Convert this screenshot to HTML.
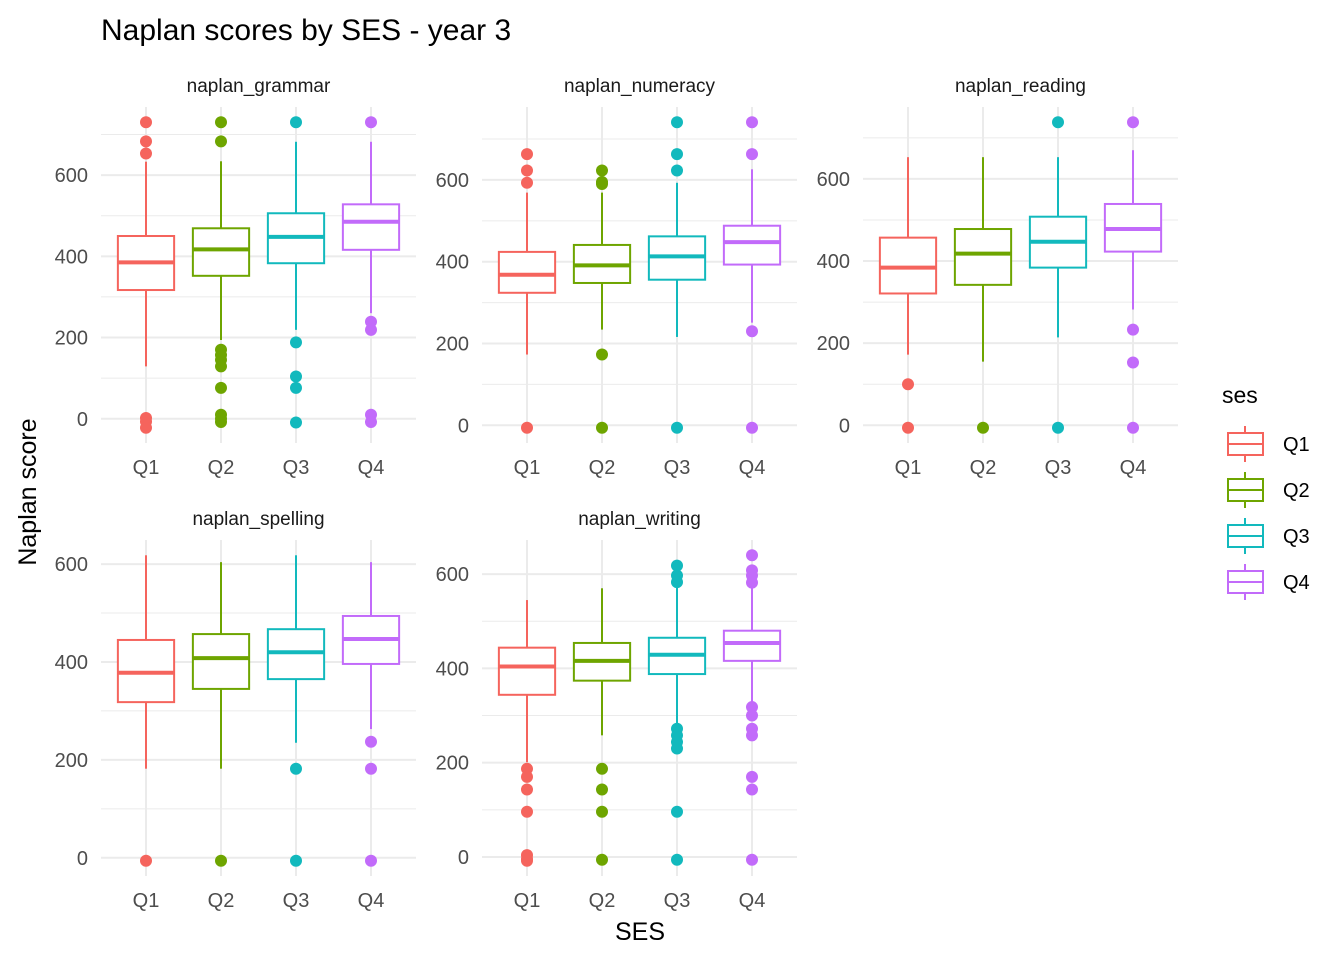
<!DOCTYPE html>
<html><head><meta charset="utf-8"><style>
body{margin:0;background:#fff;}
svg{display:block;font-family:"Liberation Sans",Arial,sans-serif;}
</style></head><body>
<svg id="chart" width="1344" height="960" viewBox="0 0 1344 960" xmlns="http://www.w3.org/2000/svg">
<text x="101" y="40" font-size="30" fill="#000">Naplan scores by SES - year 3</text>
<text x="640" y="940" font-size="25" text-anchor="middle" fill="#000">SES</text>
<text transform="translate(36,492) rotate(-90)" font-size="25" text-anchor="middle" fill="#000">Naplan score</text>
<g id="panels"></g>
<g id="legend"></g>
</svg>
<script>
const categories = ["Q1","Q2","Q3","Q4"];
const colors = ["#F5645D","#6EA500","#12B9BD","#C26BFA"];
const panelNames = ["naplan_grammar","naplan_numeracy","naplan_reading","naplan_spelling","naplan_writing"];
const yTicks = [0,200,400,600];
// each: [lowWhisker, q1, median, q3, highWhisker]
const grammarStats = [[129,317,385,450,633],[194,352,417,469,634],[219,383,448,506,682],[260,416,485,528,682]];
const grammarOutliers = [[730,683,653,2,-7,-22],[730,683,170,157,145,129,76,10,0,-8],[730,188,104,76,-9],[730,239,219,10,-8]];
const numeracyStats = [[173,324,368,424,569],[234,348,391,441,569],[216,356,413,462,593],[251,393,448,488,626]];
const numeracyOutliers = [[663,623,593,-6],[623,595,590,173,-6],[741,663,623,-6],[741,663,230,-6]];
const readingStats = [[172,321,384,457,653],[155,342,418,478,653],[214,384,447,508,653],[282,423,478,539,670]];
const readingOutliers = [[100,-6],[-6],[738,-6],[738,233,153,-6]];
const spellingStats = [[182,318,378,445,618],[182,345,408,457,604],[235,365,420,467,618],[263,396,447,494,604]];
const spellingOutliers = [[-6],[-6],[182,-6],[237,182,-6]];
const writingStats = [[201,344,404,444,545],[258,374,416,454,570],[275,388,429,465,571],[325,416,454,480,571]];
const writingOutliers = [[187,170,143,96,4,-4,-8],[187,143,96,-6],[618,597,583,272,258,244,230,96,-6],[640,608,597,582,318,300,272,258,170,143,-6]];

const panelStats=[grammarStats,numeracyStats,readingStats,spellingStats,writingStats];
const panelOut=[grammarOutliers,numeracyOutliers,readingOutliers,spellingOutliers,writingOutliers];
const NS="http://www.w3.org/2000/svg";
const colX=[101,482,863], rowY=[107,540], PW=315, PH=336;
function mk(tag,attrs,parent){const e=document.createElementNS(NS,tag);for(const k in attrs)e.setAttribute(k,attrs[k]);parent.appendChild(e);return e;}
const root=document.getElementById('panels');
panelNames.forEach((name,p)=>{
  const x0=colX[p%3], y0=rowY[Math.floor(p/3)];
  const g=mk('g',{},root);
  
  
  let mn=Infinity,mx=-Infinity;
  panelStats[p].forEach(s=>{mn=Math.min(mn,s[0]);mx=Math.max(mx,s[4]);});
  panelOut[p].forEach(o=>o.forEach(v=>{mn=Math.min(mn,v);mx=Math.max(mx,v);}));
  const pad=(mx-mn)*0.05; const lo=mn-pad, hi=mx+pad;
  const y=v=>y0+PH-(v-lo)/(hi-lo)*PH;
  const x=i=>x0+(i+0.6)/4.2*PW;
  const bw=0.75/4.2*PW;
  for(let v=-100;v<=900;v+=200){ if(v>lo&&v<hi){const l=mk('line',{x1:x0,x2:x0+PW,y1:y(v),y2:y(v),stroke:'#ebebeb','stroke-width':1},g);}}
  yTicks.forEach(v=>{ if(v>lo&&v<hi){
    const l=mk('line',{x1:x0,x2:x0+PW,y1:y(v),y2:y(v),stroke:'#ebebeb','stroke-width':2},g);
    
    const t=mk('text',{x:x0-13,y:y(v)+7,'font-size':20,'text-anchor':'end',fill:'#4d4d4d'},g);t.textContent=v;
    }});
  categories.forEach((c,i)=>{
    const l=mk('line',{x1:x(i),x2:x(i),y1:y0,y2:y0+PH,stroke:'#ebebeb','stroke-width':2},g);
    
    const t=mk('text',{x:x(i),y:y0+PH+31,'font-size':20,'text-anchor':'middle',fill:'#4d4d4d'},g);t.textContent=c;
    
  });
  const st=mk('text',{x:x0+PW/2,y:y0-15,'font-size':19,'text-anchor':'middle',fill:'#1a1a1a'},g);st.textContent=name;
  
  categories.forEach((c,i)=>{
    const s=panelStats[p][i], col=colors[i], cx=x(i);
    const bg=mk('g',{},g);
    
    
    mk('line',{x1:cx,x2:cx,y1:y(s[3]),y2:y(s[4]),stroke:col,'stroke-width':2},bg);
    mk('line',{x1:cx,x2:cx,y1:y(s[1]),y2:y(s[0]),stroke:col,'stroke-width':2},bg);
    mk('rect',{x:cx-bw/2,y:y(s[3]),width:bw,height:y(s[1])-y(s[3]),fill:'#fff',stroke:col,'stroke-width':2},bg);
    mk('line',{x1:cx-bw/2,x2:cx+bw/2,y1:y(s[2]),y2:y(s[2]),stroke:col,'stroke-width':4},bg);
    panelOut[p][i].forEach(v=>{
      const pt=mk('circle',{cx:cx,cy:y(v),r:6,fill:col},bg);
      
      
    });
  });
});
const lg=document.getElementById('legend');
const tt=mk('text',{x:1222,y:403,'font-size':23,fill:'#000'},lg);tt.textContent='ses';

categories.forEach((c,i)=>{
  const cy=444+i*46, col=colors[i];
  const e=mk('g',{},lg);
  
  
  mk('line',{x1:1245,x2:1245,y1:cy-18,y2:cy+18,stroke:col,'stroke-width':2},e);
  mk('rect',{x:1228,y:cy-11,width:35,height:22,fill:'#fff',stroke:col,'stroke-width':2},e);
  mk('line',{x1:1228,x2:1263,y1:cy,y2:cy,stroke:col,'stroke-width':2},e);
  const t=mk('text',{x:1283,y:cy+7,'font-size':20,fill:'#000'},e);t.textContent=c;
});
</script>
</body></html>
